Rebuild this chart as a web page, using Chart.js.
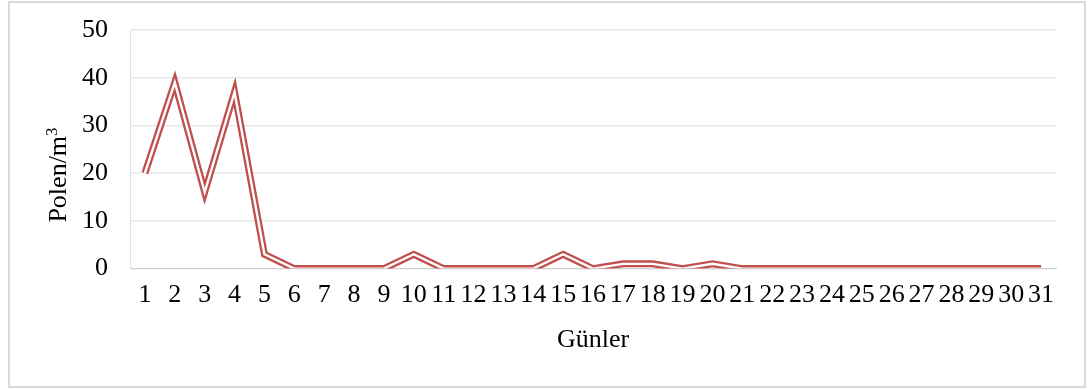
<!DOCTYPE html>
<html>
<head>
<meta charset="utf-8">
<script src="https://cdn.jsdelivr.net/npm/chart.js@4"></script>
<style>
  html, body { margin: 0; padding: 0; background: #fff; }
  #box {
    position: absolute; left: 8px; top: 1px;
    width: 1074px; height: 383px;
    border: 2px solid #d9d9d9; background: #fff;
  }
  #wrap { position: absolute; left: 0; top: 0; width: 1074px; height: 383px; }
</style>
</head>
<body>
<div id="box"><div id="wrap"><canvas id="chart"></canvas></div></div>
<script>
// gün 1..31
let days = [];
for (let i = 1; i <= 31; i++) days.push(String(i));

let pollen = [20, 39, 16, 37, 3, 0, 0, 0, 0, 3,
              0, 0, 0, 0, 3, 0, 1, 1, 0, 1,
              0, 0, 0, 0, 0, 0, 0, 0, 0, 0, 0];

let yTicks = [0, 10, 20, 30, 40, 50];

let serif = "'Liberation Serif', 'Times New Roman', serif";

// y axis title with a real superscript (Polen/m3)
const yTitle = {
    id: 'yTitle',
    afterDraw(chart) {
        const c = chart.ctx;
        const main = 'Polen/m';
        c.save();
        c.fillStyle = '#000';
        c.font = '17px ' + serif;
        const supW = c.measureText('3').width;
        c.font = '26px ' + serif;
        const mainW = c.measureText(main).width;
        const start = -(mainW + supW) / 2;
        c.translate(56, 172);
        c.rotate(-Math.PI / 2);
        c.textBaseline = 'alphabetic';
        c.textAlign = 'left';
        c.fillText(main, start, 0);
        c.font = '17px ' + serif;
        c.fillText('3', start + mainW, -9);
        c.restore();
    }
};

let ctx = document.getElementById('chart');
let chart = new Chart(ctx, {
    type: 'line',
    data: {
        labels: days,
        datasets: [
            {
                // inner white stroke makes the double line
                data: pollen,
                borderColor: '#ffffff',
                borderWidth: 2.4,
                pointRadius: 0,
                borderCapStyle: 'butt',
                borderJoinStyle: 'miter',
                tension: 0,
                order: 0
            },
            {
                data: pollen,
                borderColor: '#c0504d',
                borderWidth: 7,
                pointRadius: 0,
                borderCapStyle: 'butt',
                borderJoinStyle: 'miter',
                tension: 0,
                order: 1
            }
        ]
    },
    plugins: [yTitle],
    options: {
        responsive: true,
        maintainAspectRatio: false,
        animation: false,
        layout: { padding: { left: 40, right: 28, top: 4, bottom: 26 } },
        plugins: { legend: { display: false }, tooltip: { enabled: false } },
        scales: {
            x: {
                offset: true,
                grid: { display: false, drawTicks: false },
                border: { display: true, color: '#d0d0d0', width: 1 },
                ticks: {
                    color: '#000', padding: 11, maxRotation: 0, autoSkip: false,
                    font: { family: serif, size: 26 }
                },
                title: {
                    display: true, text: 'Günler', color: '#000',
                    font: { family: serif, size: 26 }, padding: { top: 3, bottom: 4 }
                }
            },
            y: {
                min: 0, max: 50,
                afterBuildTicks: function (axis) {
                    axis.ticks = yTicks.map(v => ({ value: v }));
                },
                afterFit: function (axis) {
                    axis.width = 80;
                    axis.paddingTop = 27;
                },
                grid: { color: '#e8e8e8', lineWidth: 1.5, drawTicks: false },
                border: { display: true, color: '#e0e0e0', width: 1 },
                ticks: {
                    color: '#000', padding: 22,
                    font: { family: serif, size: 26 }
                }
            }
        }
    }
});
</script>
</body>
</html>
